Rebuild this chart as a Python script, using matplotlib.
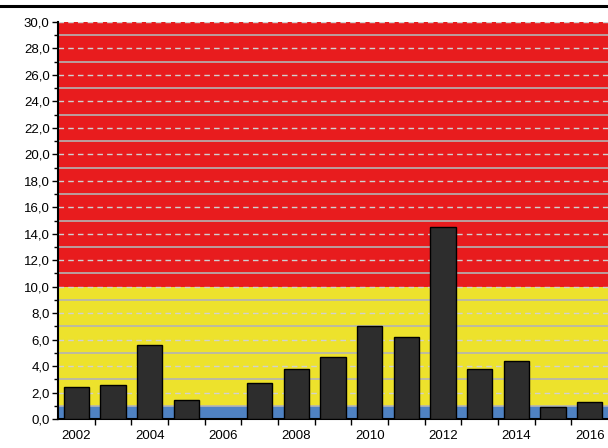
import matplotlib.pyplot as plt
from matplotlib.ticker import MultipleLocator, FixedLocator, FuncFormatter

plt.rcParams['font.family'] = ['Liberation Sans', 'DejaVu Sans']

years = list(range(2002, 2017))
values = [2.4, 2.6, 5.6, 1.4, 0.0, 2.7, 3.8, 4.7, 7.0, 6.2, 14.5, 3.8, 4.4, 0.9, 1.3]
bands = [(0, 1, '#4f82c3'), (1, 10, '#ede22c'), (10, 30, '#e81c1e')]

fig = plt.figure(figsize=(6.08, 4.48), dpi=100)
ax = fig.add_axes([58 / 608, 29 / 448, 550 / 608, 397 / 448])

x = list(range(len(years)))
for lo, hi, col in bands:
    ax.axhspan(lo, hi, color=col, zorder=0, lw=0)

for v in range(1, 30, 2):
    ax.axhline(v, color='#b4b4b4', lw=1.2, zorder=1)
for v in range(2, 31, 2):
    ax.axhline(v, color='#d0d0d0', lw=1.0, ls=(0, (4, 3)), zorder=1)

ax.bar(x, values, width=0.69, color='#2d2d2d', edgecolor='black', lw=1.0, zorder=3)

ax.set_xlim(-0.5, len(years) - 0.5)
ax.set_ylim(0, 30)
ax.yaxis.set_major_locator(MultipleLocator(2))
ax.yaxis.set_minor_locator(MultipleLocator(1))
ax.yaxis.set_major_formatter(FuncFormatter(lambda v, p: f'{v:.1f}'.replace('.', ',')))

ax.xaxis.set_major_locator(FixedLocator([i + 0.5 for i in x[:-1]]))
ax.xaxis.set_major_formatter(FuncFormatter(lambda v, p: ''))
ax.xaxis.set_minor_locator(FixedLocator([i for i in x if years[i] % 2 == 0]))
ax.xaxis.set_minor_formatter(FuncFormatter(lambda v, p: str(years[int(round(v))])))
ax.tick_params(axis='x', which='minor', length=0, labelsize=9.5, pad=8)
ax.tick_params(axis='x', which='major', length=4, width=1)
ax.tick_params(axis='y', which='major', length=4, width=1, labelsize=9.5, pad=2)
ax.tick_params(axis='y', which='minor', length=3, width=1)

for s in ['top', 'right']:
    ax.spines[s].set_visible(False)
ax.spines['left'].set_linewidth(1.5)
ax.spines['bottom'].set_linewidth(1.5)

fig.add_artist(plt.Line2D([0, 1], [442 / 448, 442 / 448], color='black', lw=2.2, transform=fig.transFigure))

fig.savefig('out.png', dpi=100)
